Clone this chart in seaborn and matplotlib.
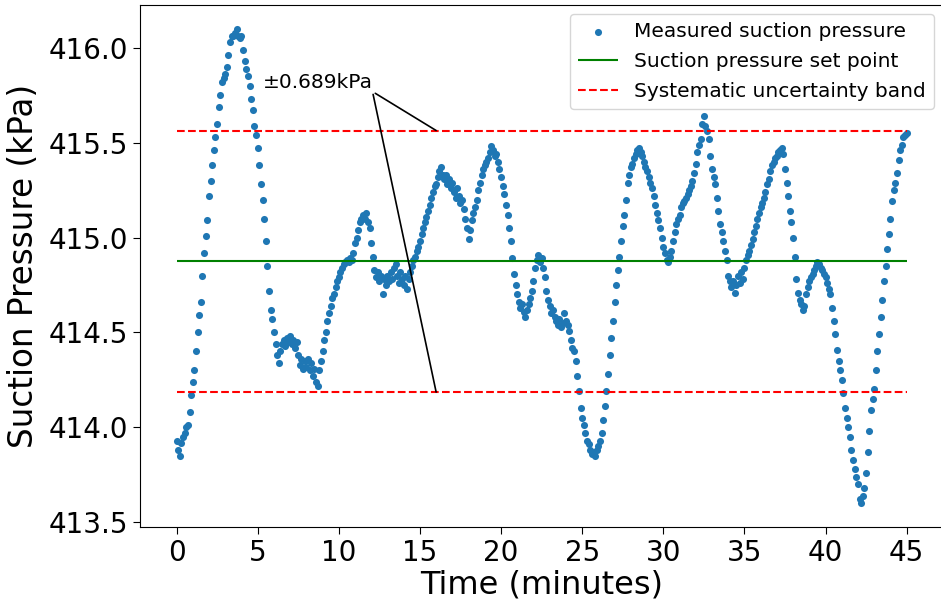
import numpy as np
import pandas as pd
import matplotlib
matplotlib.use("Agg")
import matplotlib.pyplot as plt
import seaborn as sns

# ---- data ----
sample_step_min = 0.1  # minutes between samples
pressure_kpa = [
    413.93, 413.88, 413.85, 413.92, 413.95, 413.97, 414.00, 414.01, 414.08, 414.17,
    414.24, 414.30, 414.40, 414.50, 414.59, 414.66, 414.80, 414.92, 415.01, 415.09,
    415.22, 415.30, 415.38, 415.46, 415.53, 415.60, 415.69, 415.75, 415.82, 415.84,
    415.86, 415.90, 415.96, 416.03, 416.06, 416.06, 416.08, 416.10, 416.06, 416.05,
    416.06, 415.99, 415.93, 415.89, 415.85, 415.80, 415.73, 415.67, 415.59, 415.54,
    415.47, 415.38, 415.28, 415.20, 415.10, 414.98, 414.85, 414.72, 414.62, 414.57,
    414.50, 414.44, 414.38, 414.34, 414.40, 414.44, 414.46, 414.43, 414.47, 414.45,
    414.48, 414.44, 414.46, 414.42, 414.45, 414.38, 414.33, 414.36, 414.31, 414.35,
    414.32, 414.36, 414.30, 414.34, 414.27, 414.31, 414.24, 414.22, 414.30, 414.35,
    414.40, 414.46, 414.50, 414.56, 414.60, 414.64, 414.68, 414.70, 414.74, 414.77,
    414.79, 414.82, 414.84, 414.86, 414.87, 414.88, 414.87, 414.89, 414.88, 414.92,
    414.97, 415.00, 415.04, 415.08, 415.10, 415.12, 415.10, 415.13, 415.08, 415.05,
    414.97, 414.90, 414.83, 414.79, 414.82, 414.77, 414.80, 414.70, 414.78, 414.75,
    414.80, 414.77, 414.82, 414.78, 414.84, 414.86, 414.80, 414.76, 414.82, 414.78,
    414.75, 414.80, 414.73, 414.78, 414.82, 414.85, 414.88, 414.90, 414.93, 414.95,
    414.98, 415.02, 415.05, 415.08, 415.11, 415.14, 415.17, 415.21, 415.24, 415.27,
    415.28, 415.32, 415.35, 415.37, 415.33, 415.31, 415.33, 415.28, 415.31, 415.26,
    415.29, 415.24, 415.21, 415.26, 415.22, 415.18, 415.20, 415.15, 415.10, 415.05,
    414.99, 415.04, 415.09, 415.13, 415.16, 415.20, 415.25, 415.29, 415.33, 415.36,
    415.38, 415.40, 415.42, 415.45, 415.48, 415.46, 415.43, 415.44, 415.40, 415.36,
    415.32, 415.27, 415.23, 415.17, 415.12, 415.05, 414.98, 414.89, 414.81, 414.75,
    414.70, 414.66, 414.63, 414.65, 414.61, 414.58, 414.62, 414.65, 414.68, 414.72,
    414.77, 414.84, 414.88, 414.91, 414.87, 414.89, 414.84, 414.79, 414.72, 414.67,
    414.64, 414.60, 414.62, 414.58, 414.56, 414.54, 414.57, 414.53, 414.55, 414.60,
    414.56, 414.54, 414.51, 414.46, 414.42, 414.40, 414.35, 414.27, 414.19, 414.10,
    414.05, 414.01, 413.97, 413.93, 413.91, 413.88, 413.86, 413.87, 413.85, 413.88,
    413.90, 413.93, 413.97, 414.04, 414.11, 414.19, 414.28, 414.38, 414.47, 414.56,
    414.66, 414.75, 414.83, 414.90, 414.98, 415.06, 415.12, 415.20, 415.29, 415.33,
    415.37, 415.39, 415.42, 415.44, 415.46, 415.47, 415.45, 415.43, 415.40, 415.37,
    415.35, 415.32, 415.29, 415.26, 415.22, 415.17, 415.13, 415.09, 415.05, 415.00,
    414.95, 414.92, 414.88, 414.87, 414.90, 414.93, 414.98, 415.03, 415.07, 415.10,
    415.12, 415.16, 415.18, 415.19, 415.21, 415.23, 415.25, 415.27, 415.30, 415.34,
    415.39, 415.45, 415.49, 415.52, 415.60, 415.64, 415.59, 415.56, 415.52, 415.43,
    415.36, 415.32, 415.28, 415.21, 415.14, 415.07, 415.03, 414.98, 414.93, 414.88,
    414.80, 414.77, 414.74, 414.77, 414.71, 414.75, 414.80, 414.76, 414.82, 414.78,
    414.84, 414.88, 414.91, 414.93, 414.96, 414.99, 415.03, 415.06, 415.10, 415.13,
    415.16, 415.18, 415.21, 415.24, 415.28, 415.31, 415.35, 415.38, 415.40, 415.42,
    415.43, 415.45, 415.46, 415.47, 415.44, 415.36, 415.29, 415.22, 415.14, 415.08,
    415.00, 414.90, 414.78, 414.71, 414.67, 414.65, 414.62, 414.64, 414.70, 414.74,
    414.77, 414.79, 414.81, 414.83, 414.85, 414.87, 414.86, 414.84, 414.83, 414.81,
    414.79, 414.76, 414.73, 414.70, 414.63, 414.56, 414.49, 414.41, 414.35, 414.30,
    414.25, 414.18, 414.10, 414.05, 414.00, 413.95, 413.88, 413.83, 413.78, 413.74,
    413.70, 413.62, 413.60, 413.64, 413.68, 413.76, 413.87, 413.98, 414.09, 414.15,
    414.20, 414.30, 414.40, 414.49, 414.58, 414.67, 414.77, 414.85, 414.94, 415.02,
    415.10, 415.19, 415.25, 415.29, 415.34, 415.41, 415.46, 415.49, 415.53, 415.54,
    415.55,
]
time_min = np.arange(len(pressure_kpa)) * sample_step_min

set_point_kpa = 414.875
uncertainty_kpa = 0.689

x_ticks = [0, 5, 10, 15, 20, 25, 30, 35, 40, 45]
y_ticks = [413.5, 414.0, 414.5, 415.0, 415.5, 416.0]

label_points = "Measured suction pressure"
label_set = "Suction pressure set point"
label_band = "Systematic uncertainty band"
annot_text = "\u00b10.689kPa"

df = pd.DataFrame({"Time (minutes)": time_min, "Suction Pressure (kPa)": pressure_kpa})

# ---- plot ----
plt.rcParams["font.family"] = ["DejaVu Sans"]
fig = plt.figure(figsize=(9.41, 6.02), dpi=100)
ax = fig.add_axes([0.1488, 0.1246, 0.8535, 0.867])

sns.scatterplot(data=df, x="Time (minutes)", y="Suction Pressure (kPa)", ax=ax,
                color="#1f77b4", s=26, linewidth=0, label=label_points)

t0, t1 = time_min[0], time_min[-1]
upper = set_point_kpa + uncertainty_kpa
lower = set_point_kpa - uncertainty_kpa
ax.hlines(set_point_kpa, t0, t1, colors="green", linewidth=1.5, label=label_set)
ax.hlines(upper, t0, t1, colors="red", linestyles="--", linewidth=1.5, label=label_band)
ax.hlines(lower, t0, t1, colors="red", linestyles="--", linewidth=1.5)

ax.set_ylim(413.475, 416.225)
ax.set_xlim(-2.25, 47.25)
ax.set_xticks(x_ticks)
ax.set_yticks(y_ticks)
ax.tick_params(labelsize=20, length=5)
ax.set_xlabel("Time (minutes)", fontsize=23, labelpad=2)
ax.set_ylabel("Suction Pressure (kPa)", fontsize=23.5, labelpad=6)

arrow_x = 16.0
ax.annotate(annot_text, xy=(arrow_x, upper), xytext=(5.3, 415.79),
            textcoords="data", fontsize=14.5, va="baseline",
            arrowprops=dict(arrowstyle="-", color="black", linewidth=1.2,
                            relpos=(1.0, 0.0), shrinkA=0, shrinkB=0))
ax.annotate(annot_text, xy=(arrow_x, lower), xytext=(5.3, 415.79),
            textcoords="data", fontsize=14.5, va="baseline", color=(0, 0, 0, 0),
            arrowprops=dict(arrowstyle="-", color="black", linewidth=1.2,
                            relpos=(1.0, 0.0), shrinkA=0, shrinkB=0))

leg = ax.legend(loc="upper right", fontsize=14.5, borderaxespad=0.45,
                markerscale=1.0, handlelength=2.0, labelspacing=0.55)

fig.savefig("out.png", dpi=100)
